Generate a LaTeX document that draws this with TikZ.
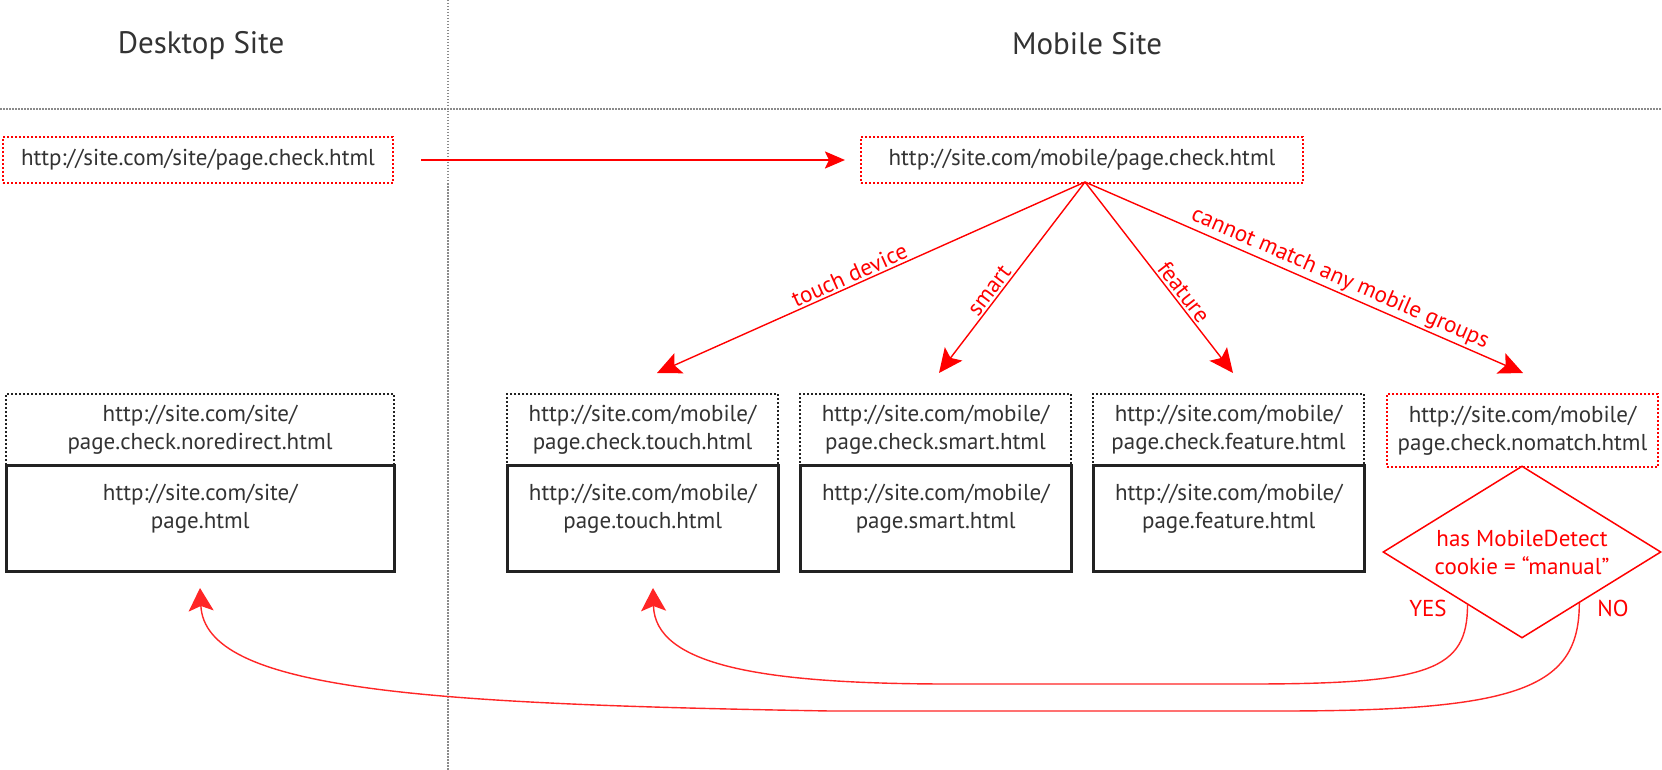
\documentclass[tikz,border=0pt]{standalone}
\usepackage{fontspec}
\setmainfont{PT Sans}
\usetikzlibrary{arrows.meta,shapes.geometric,calc}
\definecolor{txtgray}{HTML}{333333}
\definecolor{sepgray}{HTML}{8A8A8A}
\definecolor{boxblack}{HTML}{222222}
\begin{document}
\begin{tikzpicture}[x=1pt,y=-1pt,
  every node/.style={font=\fontsize{23}{28}\selectfont, text=txtgray, align=center},
  header/.style={font=\fontsize{31}{36}\selectfont},
  sepline/.style={draw=sepgray, line width=1.5pt, dash pattern=on 1.5pt off 1.5pt},
  redurl/.style={draw=red, line width=2pt, dash pattern=on 2pt off 2pt, minimum height=46pt, inner sep=0pt, anchor=north west},
  checkbox/.style={draw=boxblack, line width=2pt, dash pattern=on 2pt off 2pt, minimum height=71pt, inner sep=0pt, anchor=north west},
  redcheck/.style={checkbox, draw=red},
  pagebox/.style={draw=boxblack, line width=2.5pt, minimum height=106pt, inner sep=0pt, anchor=north west},
  redline/.style={draw=red, line width=1.4pt, -{Stealth[length=24pt, width=22pt, inset=5pt]}},
  mainarrow/.style={draw=red, line width=2.4pt, -{Stealth[length=20pt, width=17pt, inset=4pt]}},
  backarrow/.style={draw=red!85, line width=1.4pt, -{Stealth[length=23pt, width=25pt, inset=5pt]}},
  lbl/.style={text=red, inner sep=2pt},
]
\useasboundingbox (0,0) rectangle (1662,770);
\fill[white] (0,0) rectangle (1662,770);

% column separators
\draw[sepline] (448,0) -- (448,770);
\draw[sepline] (0,109) -- (1662,109);
\node[header] (hdesk) at (201,46) {Desktop Site};
\node[header] (hmob) at (1087,44) {Mobile Site};

% entry pages
\node[redurl, minimum width=390pt] (dcheck) at (2,136) {http://site.com/site/page.check.html};
\node[redurl, minimum width=442pt] (mcheck) at (860,136) {http://site.com/mobile/page.check.html};
\draw[mainarrow, shorten <=27pt, shorten >=15pt] (dcheck.east) -- (mcheck.west);

% desktop target
\node[checkbox, minimum width=388pt] (dnr) at (5,393) {http://site.com/site/\\page.check.noredirect.html};
\node[pagebox, minimum width=388pt] (dpage) at (5,464) {};
\node (dpaget) at ($(dpage.north)+(0,45)$) {http://site.com/site/\\page.html};

% mobile targets
\node[checkbox, minimum width=271pt] (tcheck) at (506,393) {http://site.com/mobile/\\page.check.touch.html};
\node[pagebox, minimum width=271pt] (tpage) at (506,464) {};
\node (tpaget) at ($(tpage.north)+(0,45)$) {http://site.com/mobile/\\page.touch.html};

\node[checkbox, minimum width=271pt] (scheck) at (799,393) {http://site.com/mobile/\\page.check.smart.html};
\node[pagebox, minimum width=271pt] (spage) at (799,464) {};
\node (spaget) at ($(spage.north)+(0,45)$) {http://site.com/mobile/\\page.smart.html};

\node[checkbox, minimum width=271pt] (fcheck) at (1092,393) {http://site.com/mobile/\\page.check.feature.html};
\node[pagebox, minimum width=271pt] (fpage) at (1092,464) {};
\node (fpaget) at ($(fpage.north)+(0,45)$) {http://site.com/mobile/\\page.feature.html};

\node[redcheck, minimum width=271pt, minimum height=73pt] (ncheck) at (1386,393) {http://site.com/mobile/\\page.check.nomatch.html};

% cookie decision
\node[diamond, draw=red, line width=1.5pt, minimum width=278pt, minimum height=172pt, aspect=1.6, inner sep=0pt, text=red] (dia) at (1522,552) {has MobileDetect\\cookie = “manual”};
\node[lbl] (yes) at (1428,608) {YES};
\node[lbl] (no) at (1613,608) {NO};

% group arrows
\coordinate (tipT) at (657,373);
\coordinate (tipS) at (939,373);
\coordinate (tipF) at (1233,373);
\coordinate (tipN) at (1523,373);
\coordinate (fan) at (1085,182);
\draw[redline] (fan) -- node[lbl, sloped, above, pos=0.54] {touch device} (tipT);
\draw[redline] (fan) -- node[lbl, sloped, above, pos=0.6] {smart} (tipS);
\draw[redline] (fan) -- node[lbl, sloped, above, pos=0.61] {feature} (tipF);
\draw[redline] (fan) -- node[lbl, sloped, above, pos=0.57] {cannot match any mobile groups} (tipN);

% decision outcomes
\coordinate (yesA) at (1250,684);
\coordinate (yesB) at (950,684);
\coordinate (tipY) at (653,588);
\coordinate (noA) at (1280,711);
\coordinate (noB) at (830,711);
\coordinate (tipNo) at (200,588);
\draw[backarrow] ($(dia.west)!0.61!(dia.south)$) .. controls +(0,65) and +(180,0) .. (yesA) -- (yesB) .. controls (760,684) and (655,665) .. (tipY);
\draw[backarrow] ($(dia.south)!0.41!(dia.east)$) .. controls +(0,85) and +(240,0) .. (noA) -- (noB) .. controls (420,704) and (205,690) .. (tipNo);
\end{tikzpicture}
\end{document}
